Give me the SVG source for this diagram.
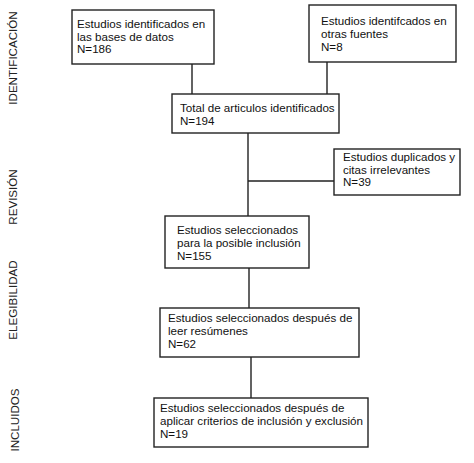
<svg xmlns="http://www.w3.org/2000/svg" width="474" height="463" viewBox="0 0 474 463">
<style>
.box{fill:#fff;stroke:#222;stroke-width:1.4}
.con{stroke:#222;stroke-width:1.4;fill:none}
text{font-family:"Liberation Sans",Arial,sans-serif;font-size:11.6px;fill:#111}
.side{fill:#222}
</style>
<rect width="474" height="463" fill="#fff"/>
<g id="connectors">
<path class="con" d="M192 64V95M327 62V95M248 133V216M248 181H334M249 268V308M251 357V398"/>
</g>
<g id="side-labels">
<text class="side" transform="translate(17,58) rotate(-90)" text-anchor="middle">IDENTIFICACIÓN</text>
<text class="side" transform="translate(17,197) rotate(-90)" text-anchor="middle">REVISIÓN</text>
<text class="side" transform="translate(17,300) rotate(-90)" text-anchor="middle">ELEGIBILIDAD</text>
<text class="side" transform="translate(19,420) rotate(-90)" text-anchor="middle">INCLUIDOS</text>
</g>
<g id="n1"><rect class="box" x="72" y="10" width="142" height="54"/>
<text x="77" y="28">Estudios identificados en</text><text x="77" y="40.5">las bases de datos</text><text x="77" y="53">N=186</text></g>
<g id="n2"><rect class="box" x="309" y="5" width="147" height="57"/>
<text x="321" y="25">Estudios identifcados en</text><text x="321" y="37.5">otras fuentes</text><text x="321" y="51">N=8</text></g>
<g id="n3"><rect class="box" x="172" y="94" width="167" height="39"/>
<text x="180" y="112">Total de articulos identificados</text><text x="180" y="124.5">N=194</text></g>
<g id="n4"><rect class="box" x="334" y="149" width="126" height="46"/>
<text x="343" y="161">Estudios duplicados y</text><text x="343" y="173.5">citas irrelevantes</text><text x="343" y="186">N=39</text></g>
<g id="n5"><rect class="box" x="165" y="216" width="144" height="52"/>
<text x="177" y="234">Estudios seleccionados</text><text x="177" y="247">para la posible inclusión</text><text x="177" y="260">N=155</text></g>
<g id="n6"><rect class="box" x="160" y="308" width="199" height="49"/>
<text x="168" y="322">Estudios seleccionados después de</text><text x="168" y="335">leer resúmenes</text><text x="168" y="348">N=62</text></g>
<g id="n7"><rect class="box" x="154" y="398" width="214" height="49"/>
<text x="160" y="412">Estudios seleccionados después de</text><text x="160" y="425">aplicar criterios de inclusión y exclusión</text><text x="160" y="438">N=19</text></g>
</svg>
